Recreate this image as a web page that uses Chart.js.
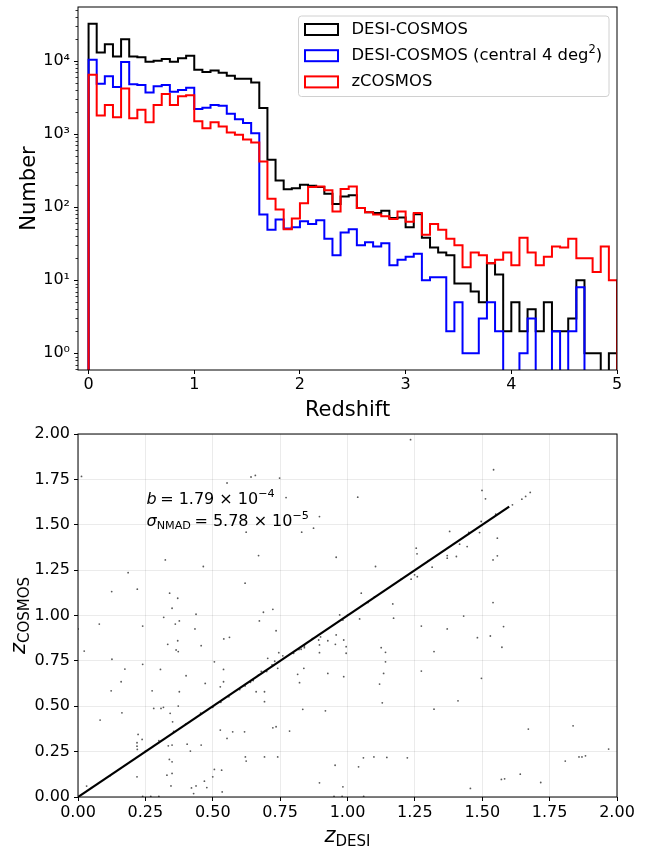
<!DOCTYPE html>
<html>
<head>
<meta charset="utf-8">
<script src="https://cdn.jsdelivr.net/npm/chart.js@4.4.1/dist/chart.umd.min.js"></script>
<style>
html, body { margin: 0; padding: 0; background: #fff; }
#wrap { position: relative; width: 655px; height: 848px; }
.box { position: absolute; left: 0; width: 655px; height: 424px; }
</style>
</head>
<body>
<div id="wrap">
  <div class="box" style="top:0px"><canvas id="histChart"></canvas></div>
  <div class="box" style="top:424px"><canvas id="scatterChart"></canvas></div>
</div>
<script>
// ============================================
// Data: redshift histograms (65 bins over 0..5)
// ============================================

const HIST_BIN_COUNT = 65;
const HIST_MAX_Z = 5;

const desiCosmosCounts = [
  32400, 13100, 17000, 11500, 19900, 11500, 11300, 9800, 10100, 10700,
  9800, 10900, 11800, 7600, 7100, 7400, 6900, 6300, 5700, 5700,
  5100, 2270, 445, 232, 176, 182, 203, 196, 188, 152,
  110, 140, 145, 97, 85, 83, 89, 71, 72, 53,
  80, 38, 28, 24, 22, 9, 9, 7, 5, 17,
  12, 2, 5, 2, 4, 2, 5, 2, 2, 3,
  10, 1, 1, 0, 1
];

const desiCentralCounts = [
  10400, 4900, 6200, 4400, 9700, 4800, 4700, 3700, 4500, 4700,
  3800, 4000, 4300, 2200, 2300, 2500, 2450, 1900, 1600, 1420,
  1030, 79, 49, 68, 51, 53, 64, 59, 66, 37,
  22, 45, 50, 30, 33, 29, 32, 16, 19, 21,
  23, 10, 11, 11, 2, 5, 1, 1, 3, 5,
  2, 0, 0, 1, 3, 0, 0, 2, 0, 2,
  8, 0, 0, 0, 0
];

const zCosmosCounts = [
  6500, 1800, 2500, 1700, 4200, 1650, 2150, 1450, 2500, 3550,
  2500, 3300, 3400, 1500, 1200, 1450, 1270, 1050, 980, 840,
  770, 420, 130, 93, 50, 70, 113, 188, 192, 170,
  87, 177, 192, 97, 85, 79, 75, 69, 87, 63,
  83, 42, 59, 49, 37, 30, 15, 24, 22, 17,
  19, 24, 16, 38, 24, 16, 21, 29, 28, 37,
  20, 20, 13, 29, 10
];

const histLabels = [
  "DESI-COSMOS",
  "DESI-COSMOS (central 4 deg",
  "zCOSMOS"
];

const HIST_X_TICKS = [0, 1, 2, 3, 4, 5];
const HIST_Y_TICKS = [1, 10, 100, 1000, 10000];
const HIST_Y_LABELS = ["10\u2070", "10\u00b9", "10\u00b2", "10\u00b3", "10\u2074"];

// ============================================
// Data: z_DESI vs z_COSMOS scatter
// ============================================

const zDesi = [
  0.013, 0.553, 0.642, 0.658, 0.748, 0.772, 0.896, 0.874, 0.830, 0.624,
  0.324, 0.465, 0.670, 0.186, 0.620, 0.125, 0.220, 0.340, 0.370, 0.349,
  0.318, 0.438, 0.723, 0.688, 0.376, 0.361, 0.673, 0.079, 0.240, 0.434,
  0.735, 0.541, 0.562, 0.000,
  0.023, 0.126, 0.174, 0.240, 0.306, 0.160, 0.123, 0.275, 0.333, 0.370,
  0.364, 0.372, 0.457, 0.401, 0.376, 0.472, 0.506, 0.540, 0.540, 0.528,
  0.082, 0.163, 0.281, 0.308, 0.317, 0.342, 0.351, 0.372, 0.219, 0.219,
  0.220, 0.223, 0.238, 0.219, 0.335, 0.349, 0.339, 0.349, 0.330, 0.349,
  0.345, 0.417, 0.405, 0.421, 0.429, 0.438, 0.478, 0.469, 0.457, 0.506,
  0.533, 0.500, 0.535, 0.528, 0.553, 0.574, 0.618, 0.621, 0.624, 0.661,
  0.692, 0.692, 0.692, 0.723, 0.735, 0.741, 0.785, 0.741, 0.745, 0.704,
  0.822, 0.834, 0.815, 0.838, 0.896, 0.918, 0.896, 0.893, 0.896, 0.927,
  0.032,
  1.274, 1.370, 1.482, 1.530, 1.579, 1.573, 1.321, 1.125, 1.141, 1.141,
  1.274, 1.497, 1.134, 1.119, 1.129, 1.410, 1.321, 0.986, 0.955, 0.958,
  0.986, 0.995, 0.995, 0.927, 0.840, 0.828, 0.954, 0.983, 1.041, 1.059,
  1.098, 1.146, 1.222, 1.456, 1.571, 1.583, 1.641, 1.717, 1.671, 1.837,
  1.808, 1.859, 1.870, 1.883, 1.969,
  1.234, 1.542, 1.038, 1.499, 1.512, 1.612, 1.647, 1.661, 1.678, 0.958,
  1.104, 1.379, 1.255, 1.258, 1.416, 1.444, 1.370, 1.370, 1.404, 1.490,
  1.496, 1.556, 1.540, 1.556, 1.314, 1.249, 1.259, 1.236, 1.051, 1.076,
  1.168, 1.171, 1.045, 0.971, 0.983, 1.431, 1.540,
  0.050, 0.120, 0.250, 0.300, 0.355, 0.400, 0.455, 0.500, 0.530, 0.560,
  0.600, 0.620, 0.640, 0.650, 0.670, 0.680, 0.700, 0.720, 0.730, 0.760,
  0.800, 0.820, 0.840, 0.870, 0.900, 1.000, 1.100, 1.200, 1.300, 1.450,
  1.550,
  0.240, 0.270, 0.300, 0.950, 0.980, 1.060
];

const zCosmos = [
  1.766, 1.730, 1.763, 1.772, 1.757, 1.650, 1.545, 1.481, 1.459, 1.459,
  1.306, 1.270, 1.330, 1.236, 1.178, 1.132, 1.145, 1.123, 1.095, 1.040,
  0.990, 1.007, 1.034, 1.018, 0.970, 0.953, 0.970, 0.953, 0.942, 0.926,
  0.916, 0.871, 0.880, 0.926,
  0.804, 0.759, 0.705, 0.731, 0.703, 0.635, 0.585, 0.585, 0.841, 0.861,
  0.810, 0.801, 0.834, 0.668, 0.580, 0.626, 0.745, 0.703, 0.635, 0.607,
  0.424, 0.464, 0.488, 0.488, 0.494, 0.461, 0.414, 0.501, 0.299, 0.280,
  0.262, 0.345, 0.317, 0.111, 0.282, 0.286, 0.207, 0.194, 0.120, 0.130,
  0.061, 0.253, 0.291, 0.050, 0.019, 0.061, 0.052, 0.087, 0.286, 0.152,
  0.148, 0.111, 0.028, 0.369, 0.323, 0.359, 0.359, 0.221, 0.198, 0.580,
  0.525, 0.580, 0.221, 0.381, 0.387, 0.221, 0.363, 0.709, 0.795, 0.764,
  0.630, 0.483, 0.676, 0.709, 0.078, 0.475, 0.795, 0.865, 0.838, 0.681,
  0.060,
  0.942, 0.926, 0.878, 0.887, 0.939, 0.825, 0.801, 0.823, 0.797, 0.745,
  0.694, 0.654, 0.681, 0.622, 0.519, 0.530, 0.484, 0.663, 0.841, 0.893,
  0.865, 0.828, 0.792, 0.861, 0.823, 0.814, 0.175, 0.056, 0.166, 0.216,
  0.221, 0.218, 0.216, 0.047, 0.097, 0.100, 0.126, 0.080, 0.374, 0.392,
  0.198, 0.221, 0.221, 0.227, 0.264,
  1.969, 1.803, 1.652, 1.689, 1.643, 1.610, 1.641, 1.656, 1.678, 1.321,
  1.270, 1.463, 1.371, 1.340, 1.393, 1.380, 1.330, 1.316, 1.325, 1.457,
  1.518, 1.426, 1.306, 1.329, 1.266, 1.224, 1.214, 1.200, 1.123, 1.071,
  1.064, 0.985, 0.981, 1.003, 0.975, 0.997, 1.071,
  0.052, 0.118, 0.252, 0.310, 0.362, 0.402, 0.462, 0.494, 0.522, 0.552,
  0.592, 0.612, 0.632, 0.642, 0.672, 0.692, 0.692, 0.728, 0.748, 0.778,
  0.792, 0.812, 0.832, 0.872, 0.882, 1.002, 1.102, 1.202, 1.302, 1.458,
  1.558,
  0.003, 0.003, 0.003, 0.003, 0.003, 0.003
];

const fitX = [0, 1.6];
const fitY = [0, 1.6];

const SCATTER_TICKS = [0, 0.25, 0.5, 0.75, 1, 1.25, 1.5, 1.75, 2];

const biasText = "1.79 \u00d7 10";
const biasExp = "\u22124";
const nmadText = "5.78 \u00d7 10";
const nmadExp = "\u22125";

// ============================================
// Shared settings
// ============================================

const FONT = "DejaVu Sans";
const LOG_FLOOR = 1e-3;

Chart.defaults.font.family = FONT;
Chart.defaults.color = "#000";

function font(size, style) {
  return (style ? style + " " : "") + size + "px \"" + FONT + "\"";
}

function drawRuns(ctx, x, y, runs) {
  runs.forEach(r => {
    ctx.font = r.font;
    ctx.fillText(r.text, x, y + (r.dy || 0));
    x += ctx.measureText(r.text).width + (r.gap || 0);
  });
  return x;
}

function runsWidth(ctx, runs) {
  let w = 0;
  runs.forEach(r => {
    ctx.font = r.font;
    w += ctx.measureText(r.text).width + (r.gap || 0);
  });
  return w;
}

function drawRotated(ctx, cx, cy, runs) {
  ctx.save();
  ctx.translate(cx, cy);
  ctx.rotate(-Math.PI / 2);
  drawRuns(ctx, -runsWidth(ctx, runs) / 2, 0, runs);
  ctx.restore();
}

// box round the plot area, like matplotlib spines
const framePlugin = {
  id: "frame",
  afterDraw(chart) {
    const a = chart.chartArea;
    const ctx = chart.ctx;
    ctx.save();
    ctx.strokeStyle = "#000";
    ctx.lineWidth = 1;
    ctx.strokeRect(a.left, a.top, a.right - a.left, a.bottom - a.top);
    ctx.restore();
  }
};

const tickFont = { font: { size: 16 }, color: "#000", maxRotation: 0, autoSkip: false };

// ============================================
// Histogram (top)
// ============================================

function stepPoints(counts) {
  const width = HIST_MAX_Z / HIST_BIN_COUNT;
  const pts = [{ x: 0, y: LOG_FLOOR }];
  counts.forEach((c, i) => {
    pts.push({ x: i * width, y: c > 0 ? c : LOG_FLOOR });
  });
  pts.push({ x: counts.length * width, y: LOG_FLOOR });
  return pts;
}

const minorLogTicks = {
  id: "minorLogTicks",
  afterDraw(chart) {
    const s = chart.scales.y;
    const ctx = chart.ctx;
    ctx.save();
    ctx.strokeStyle = "#000";
    ctx.lineWidth = 0.8;
    for (let e = -1; e <= 4; e++) {
      for (let m = 2; m <= 9; m++) {
        const v = m * Math.pow(10, e);
        if (v < s.min || v > s.max) continue;
        const py = Math.round(s.getPixelForValue(v)) + 0.5;
        ctx.beginPath();
        ctx.moveTo(chart.chartArea.left, py);
        ctx.lineTo(chart.chartArea.left - 2.5, py);
        ctx.stroke();
      }
    }
    ctx.restore();
  }
};

const histTextPlugin = {
  id: "histText",
  afterDraw(chart) {
    const ctx = chart.ctx;
    const a = chart.chartArea;
    ctx.save();
    ctx.fillStyle = "#000";
    ctx.textBaseline = "alphabetic";

    // axis titles
    ctx.font = font(21);
    ctx.textAlign = "center";
    ctx.fillText("Redshift", (a.left + a.right) / 2, 416);
    ctx.textAlign = "left";
    drawRotated(ctx, 35, (a.top + a.bottom) / 2, [{ text: "Number", font: font(21) }]);

    // legend
    const lx = 298.5, ly = 16, lw = 310.5, lh = 80.5;
    ctx.beginPath();
    ctx.roundRect(lx, ly, lw, lh, 3);
    ctx.fillStyle = "rgba(255,255,255,0.8)";
    ctx.fill();
    ctx.strokeStyle = "#d0d0d0";
    ctx.lineWidth = 1;
    ctx.stroke();

    const colors = ["#000000", "#0000ff", "#ff0000"];
    histLabels.forEach((label, i) => {
      const cy = 29.5 + i * 26.2;
      ctx.strokeStyle = colors[i];
      ctx.lineWidth = 2;
      ctx.strokeRect(305, cy - 5.5, 33, 11);
      ctx.fillStyle = "#000";
      ctx.textBaseline = "middle";
      const runs = [{ text: label, font: font(16.4) }];
      if (i === 1) {
        runs.push({ text: "2", font: font(11.5), dy: -6 });
        runs.push({ text: ")", font: font(16.4) });
      }
      drawRuns(ctx, 351.5, cy, runs);
    });
    ctx.restore();
  }
};

function createHistChart() {
  const sets = [
    { label: histLabels[0], counts: desiCosmosCounts, color: "#000000", order: 2 },
    { label: histLabels[1], counts: desiCentralCounts, color: "#0000ff", order: 1 },
    { label: histLabels[2], counts: zCosmosCounts, color: "#ff0000", order: 0 }
  ];

  return new Chart(document.getElementById("histChart"), {
    type: "line",
    data: {
      datasets: sets.map(s => ({
        label: s.label,
        data: stepPoints(s.counts),
        borderColor: s.color,
        borderWidth: 2,
        pointRadius: 0,
        stepped: true,
        fill: false,
        clip: 0,
        order: s.order
      }))
    },
    options: {
      responsive: true,
      maintainAspectRatio: false,
      animation: false,
      devicePixelRatio: 1,
      layout: { padding: { top: 7, right: 38, left: 0, bottom: 0 } },
      plugins: { legend: { display: false }, tooltip: { enabled: false } },
      scales: {
        x: {
          type: "linear",
          min: -0.1,
          max: 5,
          bounds: "data",
          border: { display: false },
          ticks: { ...tickFont, padding: 1, callback: v => String(v) },
          grid: { drawOnChartArea: false, tickLength: 4, tickColor: "#000", tickWidth: 1 },
          afterBuildTicks: s => { s.ticks = HIST_X_TICKS.map(v => ({ value: v })); },
          afterFit: s => { s.height = 54; s.paddingLeft = 0; s.paddingRight = 0; }
        },
        y: {
          type: "logarithmic",
          min: 0.59,
          max: 54900,
          bounds: "data",
          border: { display: false },
          ticks: { ...tickFont, padding: 4, callback: (v, i) => HIST_Y_LABELS[i] },
          grid: { drawOnChartArea: false, tickLength: 4, tickColor: "#000", tickWidth: 1 },
          afterBuildTicks: s => { s.ticks = HIST_Y_TICKS.map(v => ({ value: v })); },
          afterFit: s => { s.width = 78; s.paddingTop = 0; s.paddingBottom = 0; }
        }
      }
    },
    plugins: [framePlugin, minorLogTicks, histTextPlugin]
  });
}

// ============================================
// Scatter (bottom)
// ============================================

const scatterTextPlugin = {
  id: "scatterText",
  afterDraw(chart) {
    const ctx = chart.ctx;
    const a = chart.chartArea;
    ctx.save();
    ctx.fillStyle = "#000";
    ctx.textBaseline = "alphabetic";
    ctx.textAlign = "left";

    // annotation
    drawRuns(ctx, 146.5, 79.5, [
      { text: "b", font: font(16, "italic"), gap: 3.5 },
      { text: "= " + biasText, font: font(16) },
      { text: biasExp, font: font(11.2), dy: -7 }
    ]);
    drawRuns(ctx, 146.5, 102, [
      { text: "\u03c3", font: font(16, "italic") },
      { text: "NMAD", font: font(11.2), dy: 3, gap: 3.5 },
      { text: "= " + nmadText, font: font(16) },
      { text: nmadExp, font: font(11.2), dy: -7 }
    ]);

    // axis titles
    const xr = [
      { text: "z", font: font(21, "italic") },
      { text: "DESI", font: font(15), dy: 4 }
    ];
    drawRuns(ctx, (a.left + a.right) / 2 - runsWidth(ctx, xr) / 2, 418, xr);
    drawRotated(ctx, 25, (a.top + a.bottom) / 2, [
      { text: "z", font: font(21, "italic") },
      { text: "COSMOS", font: font(15), dy: 4 }
    ]);
    ctx.restore();
  }
};

function createScatterChart() {
  const points = zDesi.map((x, i) => ({ x: x, y: zCosmos[i] }));
  const fit = fitX.map((x, i) => ({ x: x, y: fitY[i] }));

  const gridOpts = {
    drawOnChartArea: true,
    color: "rgba(0,0,0,0.10)",
    lineWidth: 0.8,
    tickLength: 4,
    tickColor: "#000",
    tickWidth: 1
  };

  return new Chart(document.getElementById("scatterChart"), {
    type: "scatter",
    data: {
      datasets: [
        {
          label: "fit",
          data: fit,
          showLine: true,
          borderColor: "#000",
          borderWidth: 2.2,
          pointRadius: 0,
          clip: 0,
          order: 0
        },
        {
          label: "objects",
          data: points,
          pointRadius: 0.9,
          pointBorderWidth: 0,
          backgroundColor: "rgba(60,60,60,0.85)",
          clip: 0,
          order: 1
        }
      ]
    },
    options: {
      responsive: true,
      maintainAspectRatio: false,
      animation: false,
      devicePixelRatio: 1,
      layout: { padding: { top: 10, right: 38, left: 0, bottom: 0 } },
      plugins: { legend: { display: false }, tooltip: { enabled: false } },
      scales: {
        x: {
          type: "linear",
          min: 0,
          max: 2,
          bounds: "data",
          border: { display: false },
          ticks: { ...tickFont, padding: 2, callback: v => Number(v).toFixed(2) },
          grid: gridOpts,
          afterBuildTicks: s => { s.ticks = SCATTER_TICKS.map(v => ({ value: v })); },
          afterFit: s => { s.height = 51; s.paddingLeft = 0; s.paddingRight = 0; }
        },
        y: {
          type: "linear",
          min: 0,
          max: 2,
          bounds: "data",
          border: { display: false },
          ticks: { ...tickFont, padding: 4, callback: v => Number(v).toFixed(2) },
          grid: gridOpts,
          afterBuildTicks: s => { s.ticks = SCATTER_TICKS.map(v => ({ value: v })); },
          afterFit: s => { s.width = 78; s.paddingTop = 0; s.paddingBottom = 0; }
        }
      }
    },
    plugins: [framePlugin, scatterTextPlugin]
  });
}

createHistChart();
createScatterChart();
</script>
</body>
</html>
